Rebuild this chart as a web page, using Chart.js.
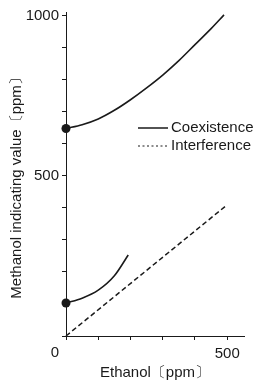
<!DOCTYPE html>
<html>
<head>
<meta charset="utf-8">
<script src="https://cdn.jsdelivr.net/npm/chart.js@4"></script>
<style>
html,body{margin:0;padding:0;background:#fff;}
</style>
</head>
<body>
<canvas id="grafico" width="261" height="380"></canvas>
<script>
/* DADOS */
const coexAltoX = [0, 50, 100, 150, 200, 250, 300, 350, 400, 450, 490];
const coexAltoY = [648, 660, 678, 705, 738, 775, 815, 860, 910, 960, 1003];
const coexBaixoX = [0, 50, 100, 150, 193];
const coexBaixoY = [103, 118, 143, 188, 253];
const interfX = [0, 500];
const interfY = [0, 410];
const rotulosY = [500, 1000];
const rotulosX = [500];

const pontos = (xs, ys) => xs.map((x, i) => ({x: x, y: ys[i]}));
const raioInicial = xs => xs.map((x, i) => i === 0 ? 4.5 : 0);

const tinta = '#1a1a1a';
const fonte = '"Liberation Sans", Arial, sans-serif';
Chart.defaults.font.family = fonte;
Chart.defaults.font.size = 15;
Chart.defaults.color = tinta;

/* LEGENDA E "0" DO CANTO */
const extras = {
  id: 'extras',
  afterDraw(chart) {
    const c = chart.ctx;
    c.save();
    c.strokeStyle = tinta;
    c.fillStyle = tinta;
    c.lineWidth = 1.5;
    c.beginPath(); c.moveTo(138, 128); c.lineTo(168, 128); c.stroke();
    c.lineWidth = 1;
    c.setLineDash([2, 2.5]);
    c.beginPath(); c.moveTo(138, 146); c.lineTo(168, 146); c.stroke();
    c.setLineDash([]);
    c.font = '15px ' + fonte;
    c.textAlign = 'left';
    c.textBaseline = 'middle';
    c.fillText('Coexistence', 171, 128);
    c.fillText('Interference', 171, 146);
    c.textAlign = 'center';
    c.fillText('0', 55, 353);
    c.restore();
  }
};

new Chart(document.getElementById('grafico'), {
  type: 'scatter',
  data: {
    datasets: [
      {
        label: 'Coexistence',
        data: pontos(coexAltoX, coexAltoY),
        showLine: true, borderColor: tinta, borderWidth: 1.6,
        pointRadius: raioInicial(coexAltoX), pointBackgroundColor: tinta, pointBorderWidth: 0,
        cubicInterpolationMode: 'monotone', clip: false
      },
      {
        label: 'Coexistence',
        data: pontos(coexBaixoX, coexBaixoY),
        showLine: true, borderColor: tinta, borderWidth: 1.6,
        pointRadius: raioInicial(coexBaixoX), pointBackgroundColor: tinta, pointBorderWidth: 0,
        cubicInterpolationMode: 'monotone', clip: false
      },
      {
        label: 'Interference',
        data: pontos(interfX, interfY),
        showLine: true, borderColor: tinta, borderWidth: 1.5, borderDash: [5, 3],
        pointRadius: 0, clip: false
      }
    ]
  },
  options: {
    responsive: false,
    animation: false,
    layout: {padding: {top: 12, right: 17, left: 0, bottom: 0}},
    plugins: {legend: {display: false}, tooltip: {enabled: false}},
    scales: {
      x: {
        type: 'linear', min: 0, max: 552,
        afterFit: s => { s.height = 44; },
        border: {color: tinta, width: 1},
        grid: {drawOnChartArea: false, tickLength: 4, color: tinta},
        ticks: {
          stepSize: 100, includeBounds: false, padding: 5, maxRotation: 0,
          callback: v => rotulosX.includes(v) ? String(v) : ''
        },
        title: {display: true, text: 'Ethanol〔ppm〕', padding: {top: 0, bottom: -2}}
      },
      y: {
        min: 0, max: 1012,
        afterFit: s => { s.width = 66; },
        border: {color: tinta, width: 1},
        grid: {drawOnChartArea: false, tickLength: 4, color: tinta},
        ticks: {
          stepSize: 100, includeBounds: false, padding: 3,
          callback: v => rotulosY.includes(v) ? String(v) : ''
        },
        title: {display: true, text: 'Methanol indicating value〔ppm〕     ', padding: {top: 8, bottom: 0}}
      }
    }
  },
  plugins: [extras]
});
</script>
</body>
</html>
